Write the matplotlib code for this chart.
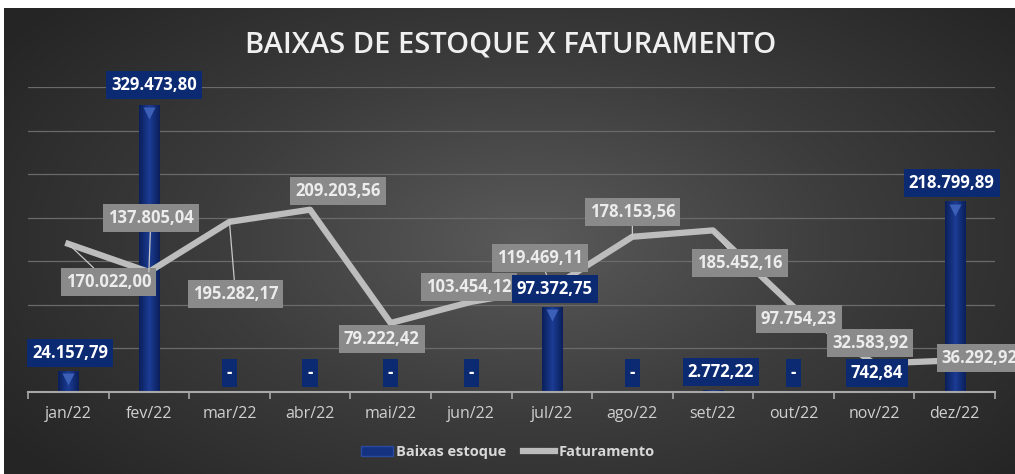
import numpy as np
import matplotlib
matplotlib.use('Agg')
import matplotlib.pyplot as plt
import matplotlib.transforms as mtransforms
from matplotlib.colors import LinearSegmentedColormap
from matplotlib.lines import Line2D
from matplotlib.patches import Patch

# ---------- data ----------
months = ['jan/22', 'fev/22', 'mar/22', 'abr/22', 'mai/22', 'jun/22',
          'jul/22', 'ago/22', 'set/22', 'out/22', 'nov/22', 'dez/22']
baixas = [24157.79, 329473.80, 0, 0, 0, 0, 97372.75, 0, 2772.22, 0, 742.84, 218799.89]
faturamento = [170022.00, 137805.04, 195282.17, 209203.56, 79222.42, 103454.12,
               119469.11, 178153.56, 185452.16, 97754.23, 32583.92, 36292.92]

# label offsets in pixels (dx, dy) from the data point
bar_off = [(2, 18), (5, 20), (0, 19), (0, 19), (0, 19), (0, 19),
           (3, 18), (0, 19), (8, 18), (0, 19), (3, 18), (-3, 18)]
line_off = [(40, -38), (2, 54), (6, -72), (28, 19), (-9, -16), (-2, 15),
            (-12, 30), (0, 25), (27, -33), (5, -12), (-4, 21), (25, 2)]
leader = [True, True, True, False, False, False, True, True, True, False, False, False]

NAVY = '#0c2a72'
GRAY_BOX = '#8a8a8a'
LINE = '#bdbdbd'
FONT = 'Open Sans'


def br(v):
    if v == 0:
        return '-'
    s = f'{v:,.2f}'
    return s.replace(',', '#').replace('.', ',').replace('#', '.')


fig = plt.figure(figsize=(10.15, 4.74), dpi=100)

# ---------- dark radial background ----------
bg = fig.add_axes([4 / 1015, 0, 1011 / 1015, 466 / 474])
yy, xx = np.mgrid[0:1:300j, 0:1:600j]
r = np.sqrt(((xx - 0.52) / 0.75) ** 2 + ((yy - 0.5) / 0.9) ** 2)
bg_cmap = LinearSegmentedColormap.from_list('bg', ['#5a5a5a', '#3c3c3c', '#252525'])
bg.imshow(r, cmap=bg_cmap, aspect='auto', extent=(0, 1, 0, 1), vmin=0, vmax=0.85)
bg.set_axis_off()

# ---------- main axes ----------
ax = fig.add_axes([28 / 1015, 82 / 474, 967 / 1015, 305 / 474])
ax.set_facecolor('none')
x = np.arange(len(months))
ax.set_xlim(-0.5, len(months) - 0.5)
ax.set_ylim(0, 350000)

ax.set_yticks(np.arange(0, 350001, 50000))
ax.yaxis.grid(True, color='#6a6a6a', lw=0.9)
ax.set_axisbelow(True)
ax.tick_params(axis='y', left=False, labelleft=False)
for s in ['top', 'right', 'left']:
    ax.spines[s].set_visible(False)
ax.spines['bottom'].set_color('#a8a8a8')
ax.spines['bottom'].set_linewidth(1.5)
ax.set_xticks(x)
ax.set_xticklabels(months, color='#d0d0d0', fontsize=11.5, family=FONT)
ax.tick_params(axis='x', which='major', length=0, pad=10)
ax.set_xticks(np.arange(-0.5, len(months)), minor=True)
ax.tick_params(axis='x', which='minor', length=5, color='#a8a8a8', width=1.2)

# bars with cylinder-like gradient
bars = ax.bar(x, baixas, width=0.25, color=NAVY, zorder=2)
grad = np.linspace(0, 1, 64)
grad = 1 - np.abs(grad - 0.5) * 2
bar_cmap = LinearSegmentedColormap.from_list('bar', ['#0a1f5a', '#1c3c94'])
for b in bars:
    if b.get_height() <= 0:
        continue
    im = ax.imshow(grad[None, :], cmap=bar_cmap, aspect='auto', zorder=2.1,
                   extent=(b.get_x(), b.get_x() + b.get_width(), 0, b.get_height()))
    im.set_clip_path(b)
# small bevel triangle at bar tops
tri_tr = mtransforms.offset_copy(ax.transData, fig=fig, x=0, y=-6, units='points')
for xi, v in zip(x, baixas):
    if v > 0:
        ax.plot(xi, v, marker='v', ms=8, color='#3c5fb8', mec='none', transform=tri_tr, zorder=2.2)

# line
ax.plot(x, faturamento, color=LINE, lw=4.5, solid_joinstyle='round', zorder=3)

# line labels
for xi, v, (dx, dy), ld in zip(x, faturamento, line_off, leader):
    ap = dict(arrowstyle='-', color='#c8c8c8', lw=0.9, shrinkA=0, shrinkB=0) if ld else None
    ax.annotate(br(v), xy=(xi, v), xytext=(dx, dy), textcoords='offset pixels',
                ha='center', va='center', fontsize=12, fontweight='bold', family=FONT,
                color='#ececec', arrowprops=ap, zorder=5, annotation_clip=False,
                bbox=dict(boxstyle='square,pad=0.3', fc=GRAY_BOX, ec='none'))

# bar labels
for xi, v, (dx, dy) in zip(x, baixas, bar_off):
    ax.annotate(br(v), xy=(xi, v), xytext=(dx, dy), textcoords='offset pixels',
                ha='center', va='center', fontsize=12, fontweight='bold', family=FONT,
                color='white', zorder=6, annotation_clip=False,
                bbox=dict(boxstyle='square,pad=0.3', fc=NAVY, ec='none'))

# title
fig.text(0.503, 1 - 45 / 474, 'BAIXAS DE ESTOQUE X FATURAMENTO', ha='center', va='center',
         fontsize=21, color='#f0f0f0', family=FONT, fontweight='semibold')

# legend
handles = [Patch(facecolor='#14327f', edgecolor='#2a4aa0'),
           Line2D([0], [0], color=LINE, lw=4.5)]
leg = fig.legend(handles, ['Baixas estoque', 'Faturamento'], loc='center', ncol=2,
                 bbox_to_anchor=(0.5, 22 / 474), frameon=False, handlelength=2.2,
                 handletextpad=0.2, columnspacing=1.2,
                 prop=dict(family=FONT, weight='bold', size=10.5))
for t in leg.get_texts():
    t.set_color('#d8d8d8')

fig.savefig('out.png', dpi=100, facecolor='white')
